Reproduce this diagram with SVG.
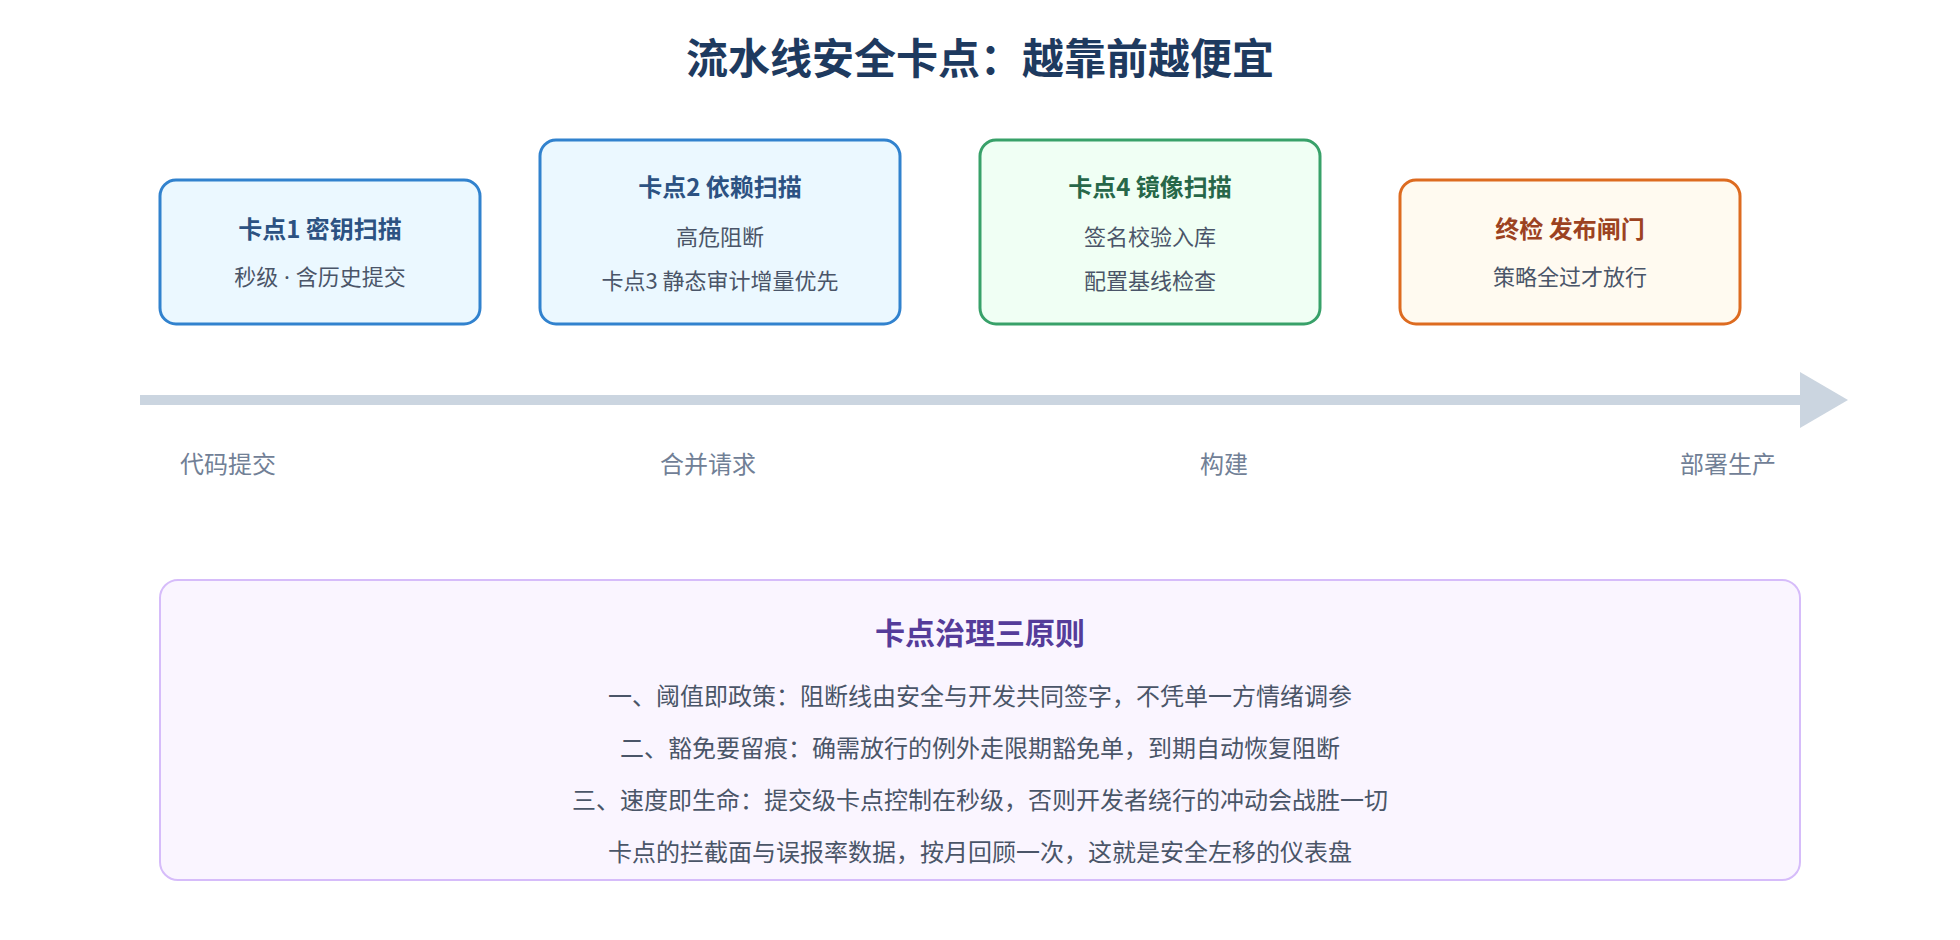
<svg xmlns="http://www.w3.org/2000/svg" width="1960" height="940" viewBox="0 0 1960 940">
  <style>
    text { font-family: "Noto Sans CJK SC", "Noto Sans", sans-serif; text-anchor: middle; }
    .title { font-size: 42px; font-weight: 700; fill: #1e3a5f; }
    .ntitle { font-size: 24px; font-weight: 700; }
    .sub { font-size: 22px; fill: #4a5568; }
    .latin { font-family: "Noto Sans", "Noto Sans CJK SC", sans-serif; }
    .stage { font-size: 24px; fill: #718096; text-anchor: start; }
    .blue rect { fill: #ebf8ff; stroke: #3182ce; stroke-width: 3; }
    .blue .ntitle { fill: #2c5282; }
    .green rect { fill: #f0fff4; stroke: #38a169; stroke-width: 3; }
    .green .ntitle { fill: #276749; }
    .orange rect { fill: #fffaf0; stroke: #dd6b20; stroke-width: 3; }
    .orange .ntitle { fill: #9c4221; }
    .panel rect { fill: #faf5ff; stroke: #d6bcfa; stroke-width: 2; }
    .ptitle { font-size: 30px; font-weight: 700; fill: #553c9a; }
    .pline { font-size: 24px; fill: #4a5568; }
  </style>

  <rect x="0" y="0" width="1960" height="940" fill="#ffffff"/>

  <text class="title" x="980" y="74">流水线安全卡点：越靠前越便宜</text>

  <g id="connectors">
    <line x1="140" y1="400" x2="1802" y2="400" stroke="#cbd5e0" stroke-width="10"/>
    <polygon points="1800,372 1848,400 1800,428" fill="#cbd5e0"/>
  </g>

  <g id="stages">
    <text class="stage" x="180" y="473">代码提交</text>
    <text class="stage" x="660" y="473">合并请求</text>
    <text class="stage" x="1200" y="473">构建</text>
    <text class="stage" x="1680" y="473">部署生产</text>
  </g>

  <g id="gate1" class="blue">
    <rect x="160" y="180" width="320" height="144" rx="16"/>
    <text class="ntitle" x="320" y="238">卡点1 密钥扫描</text>
    <text class="sub latin" x="320" y="285">秒级 · 含历史提交</text>
  </g>

  <g id="gate2" class="blue">
    <rect x="540" y="140" width="360" height="184" rx="16"/>
    <text class="ntitle" x="720" y="196">卡点2 依赖扫描</text>
    <text class="sub" x="720" y="245">高危阻断</text>
    <text class="sub" x="720" y="289">卡点3 静态审计增量优先</text>
  </g>

  <g id="gate4" class="green">
    <rect x="980" y="140" width="340" height="184" rx="16"/>
    <text class="ntitle" x="1150" y="196">卡点4 镜像扫描</text>
    <text class="sub" x="1150" y="245">签名校验入库</text>
    <text class="sub" x="1150" y="289">配置基线检查</text>
  </g>

  <g id="final" class="orange">
    <rect x="1400" y="180" width="340" height="144" rx="16"/>
    <text class="ntitle" x="1570" y="238">终检 发布闸门</text>
    <text class="sub" x="1570" y="285">策略全过才放行</text>
  </g>

  <g id="principles" class="panel">
    <rect x="160" y="580" width="1640" height="300" rx="18"/>
    <text class="ptitle" x="980" y="644">卡点治理三原则</text>
    <text class="pline" x="980" y="705">一、阈值即政策：阻断线由安全与开发共同签字，不凭单一方情绪调参</text>
    <text class="pline" x="980" y="757">二、豁免要留痕：确需放行的例外走限期豁免单，到期自动恢复阻断</text>
    <text class="pline" x="980" y="809">三、速度即生命：提交级卡点控制在秒级，否则开发者绕行的冲动会战胜一切</text>
    <text class="pline" x="980" y="861">卡点的拦截面与误报率数据，按月回顾一次，这就是安全左移的仪表盘</text>
  </g>
</svg>
